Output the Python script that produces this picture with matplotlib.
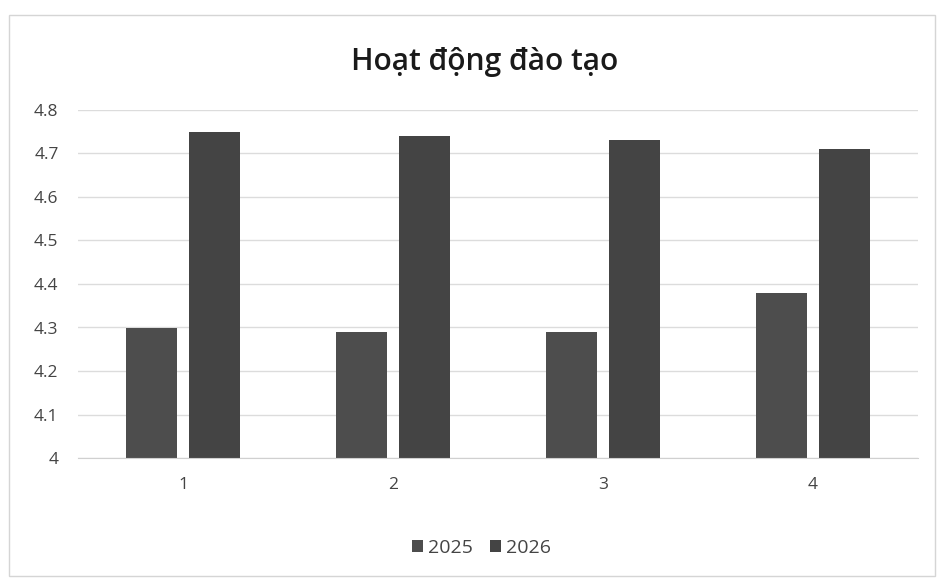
import matplotlib.pyplot as plt
import numpy as np

plt.rcParams['font.family'] = ['Open Sans', 'DejaVu Sans']

categories = ['1', '2', '3', '4']
series_names = ['2025', '2026']
values_2025 = [4.30, 4.29, 4.29, 4.38]
values_2026 = [4.75, 4.74, 4.73, 4.71]
y_ticks = [4, 4.1, 4.2, 4.3, 4.4, 4.5, 4.6, 4.7, 4.8]
y_labels = ['4', '4.1', '4.2', '4.3', '4.4', '4.5', '4.6', '4.7', '4.8']

fig = plt.figure(figsize=(9.4, 5.88), dpi=100)
ax = fig.add_axes([78 / 940, 1 - 458 / 588, (918 - 78) / 940, (458 - 110) / 588])

x = np.arange(1, len(categories) + 1)
w = 0.24
ax.bar(x - 0.15, np.array(values_2025) - 4, w, bottom=4, color='#4d4d4d', label=series_names[0])
ax.bar(x + 0.15, np.array(values_2026) - 4, w, bottom=4, color='#444444', label=series_names[1])

ax.set_xlim(0.5, 4.5)
ax.set_ylim(4, 4.8)
ax.set_yticks(y_ticks)
ax.set_yticklabels(y_labels)
ax.set_xticks(x)
ax.set_xticklabels(categories)
ax.grid(axis='y', color='#dcdcdc', linewidth=1)
ax.set_axisbelow(True)
for s in ['top', 'right', 'left']:
    ax.spines[s].set_visible(False)
ax.spines['bottom'].set_color('#d0d0d0')
ax.tick_params(length=0, colors='#444444', labelsize=12.5)
ax.tick_params(axis='x', pad=14)
ax.tick_params(axis='y', pad=14)

fig.text(0.516, 1 - 62 / 588, 'Hoạt động đào tạo', ha='center', va='center',
         fontsize=21.5, color='#1a1a1a', fontweight='semibold')

fig.legend(loc='center', bbox_to_anchor=(0.512, 1 - 548 / 588), ncol=2, frameon=False,
           fontsize=14, handlelength=0.55, handleheight=0.55, handletextpad=0.25,
           columnspacing=0.9, labelcolor='#444444')

fig.patches.append(plt.Rectangle((0.01, 0.02), 0.985, 0.955, transform=fig.transFigure,
                                 fill=False, edgecolor='#d5d5d5', linewidth=1))

fig.savefig('out.png', dpi=100)
